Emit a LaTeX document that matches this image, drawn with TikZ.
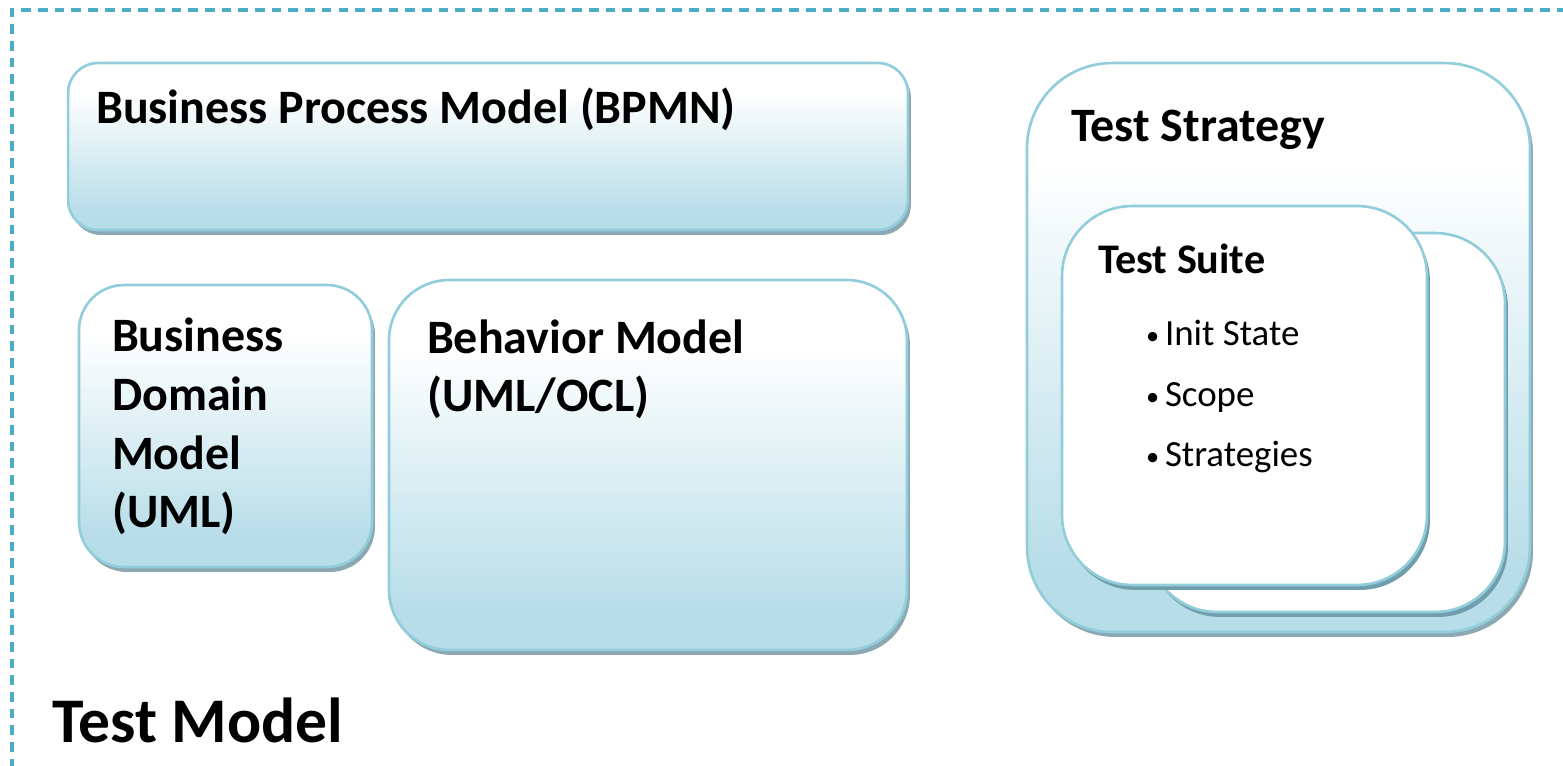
\documentclass[tikz,border=0pt]{standalone}
\usepackage{fontspec}
\setmainfont{Carlito}
\usetikzlibrary{shadows}

\definecolor{framecol}{RGB}{75,172,198}
\definecolor{boxline}{RGB}{146,205,220}
\definecolor{boxfill}{RGB}{183,221,232}
\definecolor{boxshadow}{RGB}{140,168,178}
\definecolor{cardshadow}{RGB}{112,158,172}

\pgfdeclareverticalshading{boxshade}{100bp}{color(0bp)=(boxfill); color(30bp)=(boxfill); color(66bp)=(white); color(100bp)=(white)}

\newcommand{\itembullet}{\makebox[10.8pt][l]{\fontsize{15}{15}\selectfont\raisebox{0.5pt}{•}}}

\tikzset{
    frame/.style={draw=framecol, line width=1.9pt, dash pattern=on 5.5pt off 4pt},
    box/.style={draw=boxline, line width=1.5pt, shading=boxshade, rounded corners=#1, inner sep=0pt,
        drop shadow={shadow xshift=0.06cm, shadow yshift=-0.1cm, fill=boxshadow, opacity=1}},
    card/.style={draw=boxline, line width=1.5pt, fill=white, rounded corners=#1, inner sep=0pt,
        drop shadow={shadow xshift=0.06cm, shadow yshift=-0.1cm, fill=cardshadow, opacity=1}},
    title/.style={font=\fontsize{27.3}{33.4}\selectfont\bfseries, inner sep=0pt, anchor=base west, align=left},
    subtitle/.style={font=\fontsize{24}{29}\selectfont\bfseries, inner sep=0pt, anchor=base west},
    bullet/.style={font=\fontsize{21}{25}\selectfont, inner sep=0pt, anchor=base west}
}

\begin{document}
\begin{tikzpicture}[x=0.02cm, y=-0.02cm]
    \useasboundingbox (0,0) rectangle (1563,765);
    \draw[frame] (1600,10) -- (12,10) -- (12,800);

    % left side: the models (multi-line labels sit on their last line)
    \node[box=0.6cm, minimum width=16.8cm, minimum height=3.34cm] (bpmn) at (488,146.5) {};
    \node[box=0.9cm, minimum width=5.86cm, minimum height=5.64cm] (domain) at (225.5,426) {};
    \node[box=1.2cm, minimum width=10.36cm, minimum height=7.4cm] (behavior) at (648,465) {};
    \node[title] (bpmntxt) at ([shift={(29,62)}]bpmn.north west) {Business Process Model (BPMN)};
    \node[title] (domaintxt) at ([shift={(34,244)}]domain.north west) {Business\\Domain\\Model\\(UML)};
    \node[title] (behaviortxt) at ([shift={(39,133)}]behavior.north west) {Behavior Model\\(UML/OCL)};

    % right side: strategy with its suites
    \node[box=1.7cm, minimum width=10.06cm, minimum height=11.38cm] (strategy) at (1278.5,347.5) {};
    \node[title] (strategytxt) at ([shift={(45,80)}]strategy.north west) {Test Strategy};
    \node[card=1.4cm, minimum width=7.16cm, minimum height=7.58cm] (suiteback) at (1326,422.5) {};
    \node[card=1.4cm, minimum width=7.3cm, minimum height=7.58cm] (suite) at (1244.5,395.5) {};
    \node[subtitle] (suitetxt) at ([shift={(37,69)}]suite.north west) {Test Suite};
    \node[bullet] (init) at ([shift={(85,141)}]suite.north west) {\itembullet Init State};
    \node[bullet] (scope) at ([shift={(85,202)}]suite.north west) {\itembullet Scope};
    \node[bullet] (strat) at ([shift={(85,262)}]suite.north west) {\itembullet Strategies};

    \node[font=\fontsize{36.2}{44}\selectfont\bfseries, inner sep=0pt, anchor=base west] (model) at (52,742) {Test Model};
\end{tikzpicture}
\end{document}
